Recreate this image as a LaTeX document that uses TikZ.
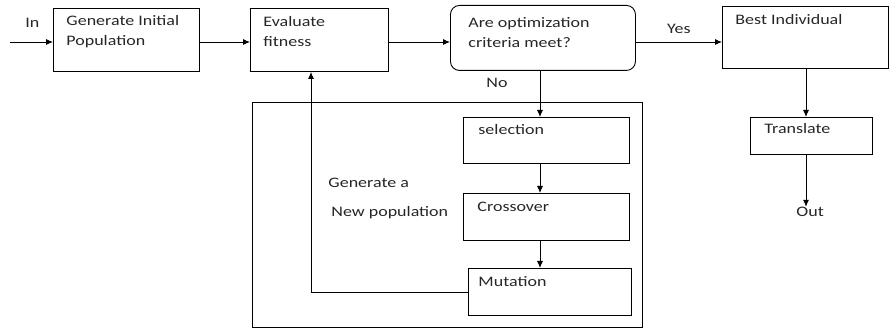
\documentclass[tikz,border=0pt]{standalone}
\usepackage{fontspec}
\setmainfont{Carlito}[FakeStretch=1.24]
\usepackage{tikz}
\usetikzlibrary{arrows.meta,positioning}

\begin{document}
\begin{tikzpicture}[x=1pt,y=-1pt,line width=0.9pt,>={Latex[length=7pt,width=6pt]},
font=\fontsize{14.5}{20}\selectfont,
blk/.style={draw,anchor=north west,inner sep=0pt},
txt/.style={anchor=west,inner sep=0pt,align=left,text=black!85}]
\useasboundingbox (0,0) rectangle (889,328);
% top row
\node[blk,minimum width=146pt,minimum height=63pt] (gen) at (53,8) {};
\node[blk,minimum width=138pt,minimum height=63pt] (eval) at (250,8) {};
\node[blk,rounded corners=9pt,minimum width=185pt,minimum height=65pt] (crit) at (450,5) {};
\node[blk,minimum width=166pt,minimum height=62pt] (best) at (722,6) {};
\node[txt] (gent) at (66,32) {Generate Initial\\Population};
\node[txt] (evalt) at (263,32) {Evaluate\\fitness};
\node[txt] (critt) at (468,33) {Are optimization\\criteria meet?};
\node[txt] (bestt) at (735,20) {Best Individual};
% new population
\node[blk,minimum width=390pt,minimum height=225pt] (newpop) at (252,102) {};
\node[blk,minimum width=166pt,minimum height=46pt] (sel) at (463,117) {};
\node[blk,minimum width=166pt,minimum height=47pt] (cross) at (463,193) {};
\node[blk,minimum width=163pt,minimum height=47pt] (mut) at (468,268) {};
\node[txt] (selt) at (478,130) {selection};
\node[txt] (crosst) at (477,207) {Crossover};
\node[txt] (mutt) at (478,282) {Mutation};
\node[txt] (gena) at (328,183) {Generate a};
\node[txt] (genb) at (331,213) {New population};
% output side
\node[blk,minimum width=122pt,minimum height=37pt] (trans) at (750,117) {};
\node[txt] (transt) at (764,129) {Translate};
\node[txt] (out) at (796,212) {Out};
\node[txt] (in) at (25,23) {In};
\node[txt] (no) at (486,83) {No};
\coordinate (start) at (10,42);
\coordinate (turn) at (311,292);
\coordinate (nox) at (540,0);
\coordinate (outx) at (806,0);
% arrows
\draw[->] (start) -- (gen.west |- start);
\draw[->] (gen.east |- start) -- (eval.west |- start);
\draw[->] (eval.east |- start) -- (crit.west |- start);
\draw[->] (crit.east |- start) -- node[above=5pt,text=black!85]{Yes} (best.west |- start);
\draw[->] (nox |- crit.south) -- (nox |- sel.north);
\draw[->] (nox |- sel.south) -- (nox |- cross.north);
\draw[->] (nox |- cross.south) -- (nox |- mut.north);
\draw[->] (mut.west |- turn) -- (turn) -- (turn |- eval.south);
\draw[->] (outx |- best.south) -- (outx |- trans.north);
\draw[->] (outx |- trans.south) -- (outx |- out.north);
\end{tikzpicture}
\end{document}
